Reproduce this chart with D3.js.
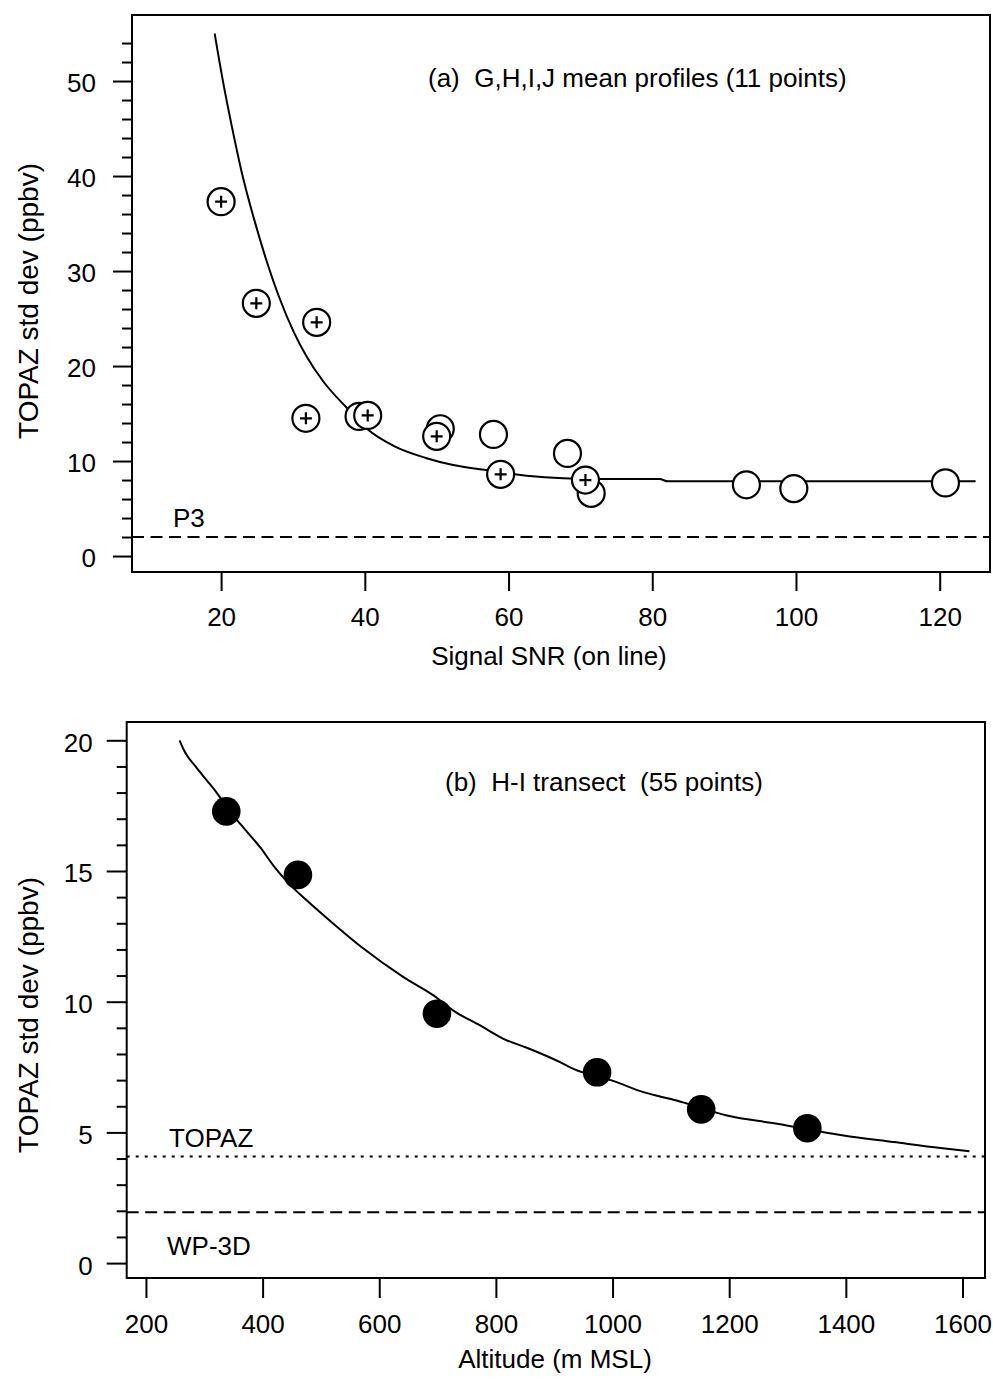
<!DOCTYPE html>
<html>
<head>
<meta charset="utf-8">
<script src="https://cdn.jsdelivr.net/npm/d3@7"></script>
<style>
  html, body { margin: 0; padding: 0; background: #fff; }
  svg { display: block; }
  text { font-family: "Liberation Sans", Arial, Helvetica, sans-serif; fill: #000; white-space: pre; }
</style>
</head>
<body>
<svg id="chart" width="993" height="1381"></svg>
<script>
// ---------- Panel (a) data ----------
const aPlusX = [20.0, 24.9, 33.3, 31.8, 40.4, 50.0, 58.9, 70.7];
const aPlusY = [37.3, 26.6, 24.6, 14.5, 14.8, 12.6, 8.6, 8.0];
const aOpenX = [39.2, 50.5, 57.9, 68.2, 71.5, 93.1, 99.7, 120.8];
const aOpenY = [14.7, 13.4, 12.8, 10.8, 6.6, 7.5, 7.1, 7.7];
const aFitX = [19.1, 20.3, 21.5, 22.9, 24.5, 26.4, 28.0, 30.1, 31.9, 34.2, 36.6, 37.9, 40.3, 44.0, 48.6, 52.3, 56.9, 62.5, 67.6, 72.0, 81.0, 82.2, 125.0];
const aFitY = [55.0, 49.8, 45.2, 40.3, 35.7, 30.9, 27.4, 23.6, 21.0, 18.4, 16.3, 15.3, 13.4, 11.6, 10.3, 9.58, 9.05, 8.45, 8.18, 8.12, 8.1, 7.86, 7.86];
const aRefY = 2.0;
const aRefLabel = "P3";
const aXTicks = [20, 40, 60, 80, 100, 120];
const aYTicks = [0, 10, 20, 30, 40, 50];
const aYMinor = [2, 4, 6, 8, 12, 14, 16, 18, 22, 24, 26, 28, 32, 34, 36, 38, 42, 44, 46, 48, 52, 54];
const aTitle = "(a)  G,H,I,J mean profiles (11 points)";
const aXLabel = "Signal SNR (on line)";
const aYLabel = "TOPAZ std dev (ppbv)";

// ---------- Panel (b) data ----------
const bPtX = [337.7, 460.6, 698.9, 973.5, 1152, 1334];
const bPtY = [17.28, 14.85, 9.54, 7.30, 5.88, 5.16];
const bFitX = [257.6, 267, 285, 304.6, 321.7, 340, 361.7, 396, 418.8, 446, 476, 510, 570, 641.6, 693, 727, 773, 813, 853, 910, 933, 1002, 1053, 1110, 1196, 1282, 1396, 1482, 1562, 1612];
const bFitY = [20.0, 19.54, 19.0, 18.46, 17.98, 17.4, 16.8, 15.9, 15.2, 14.5, 13.87, 13.2, 12.08, 10.94, 10.24, 9.66, 9.09, 8.58, 8.24, 7.69, 7.43, 6.96, 6.54, 6.22, 5.65, 5.33, 4.88, 4.63, 4.40, 4.28];
const bTopazY = 4.08;
const bWp3dY = 1.95;
const bTopazLabel = "TOPAZ";
const bWp3dLabel = "WP-3D";
const bXTicks = [200, 400, 600, 800, 1000, 1200, 1400, 1600];
const bYTicks = [0, 5, 10, 15, 20];
const bYMinor = [1, 2, 3, 4, 6, 7, 8, 9, 11, 12, 13, 14, 16, 17, 18, 19];
const bTitle = "(b)  H-I transect  (55 points)";
const bXLabel = "Altitude (m MSL)";
const bYLabel = "TOPAZ std dev (ppbv)";

const svg = d3.select("#chart");
svg.append("rect").attr("width", 993).attr("height", 1381).attr("fill", "#fff");

function styleAxis(g) {
  g.select(".domain").remove();
  g.selectAll(".tick line").attr("stroke", "#000").attr("stroke-width", 2);
  g.selectAll(".tick text").attr("font-size", 26).attr("fill", "#000")
    .attr("font-family", '"Liberation Sans", Arial, sans-serif');
}

// ================= Panel (a) =================
{
  const L = 132, R = 990, T = 15, B = 572;
  const x = d3.scaleLinear().domain([7.6, 127]).range([L, R]);
  const y = d3.scaleLinear().domain([-1.68, 56.95]).range([B, T]);
  const g = svg.append("g");

  g.append("g").attr("transform", `translate(0,${B})`)
    .call(d3.axisBottom(x).tickValues(aXTicks).tickSize(19).tickPadding(17).tickFormat(d3.format("d")))
    .call(styleAxis);
  g.append("g").attr("transform", `translate(${L},0)`)
    .call(d3.axisLeft(y).tickValues(aYTicks).tickSize(19).tickPadding(17).tickFormat(d3.format("d")))
    .call(styleAxis)
    .call(a => a.selectAll(".tick text").attr("dy", "0.42em"));
  g.append("g").attr("transform", `translate(${L},0)`)
    .call(d3.axisLeft(y).tickValues(aYMinor).tickSize(10).tickFormat(""))
    .call(styleAxis);

  g.append("line").attr("x1", L).attr("x2", R).attr("y1", y(aRefY)).attr("y2", y(aRefY))
    .attr("stroke", "#000").attr("stroke-width", 2).attr("stroke-dasharray", "12,6.5");
  g.append("text").attr("x", 173).attr("y", y(aRefY) - 10).attr("font-size", 26).text(aRefLabel);

  const fit = aFitX.map((v, i) => [v, aFitY[i]]);
  g.append("path").datum(fit)
    .attr("d", d3.line().x(d => x(d[0])).y(d => y(d[1])).curve(d3.curveMonotoneX))
    .attr("fill", "none").attr("stroke", "#000").attr("stroke-width", 2);

  const open = aOpenX.map((v, i) => [v, aOpenY[i]]);
  g.selectAll(".open").data(open).join("circle")
    .attr("cx", d => x(d[0])).attr("cy", d => y(d[1])).attr("r", 13.5)
    .attr("fill", "#fff").attr("stroke", "#000").attr("stroke-width", 2.2);

  const plus = aPlusX.map((v, i) => [v, aPlusY[i]]);
  const pg = g.selectAll(".plus").data(plus).join("g")
    .attr("transform", d => `translate(${x(d[0])},${y(d[1])})`);
  pg.append("circle").attr("r", 13.5).attr("fill", "#fff").attr("stroke", "#000").attr("stroke-width", 2.2);
  pg.append("path").attr("d", "M-6,0H6M0,-6V6").attr("stroke", "#000").attr("stroke-width", 2.2);

  g.append("rect").attr("x", L).attr("y", T).attr("width", R - L).attr("height", B - T)
    .attr("fill", "none").attr("stroke", "#000").attr("stroke-width", 2);

  g.append("text").attr("x", 428).attr("y", 87).attr("font-size", 26).text(aTitle);
  g.append("text").attr("x", 549).attr("y", 665).attr("font-size", 26).attr("text-anchor", "middle").text(aXLabel);
  g.append("text").attr("transform", "translate(38,301) rotate(-90)").attr("font-size", 28)
    .attr("text-anchor", "middle").text(aYLabel);
}

// ================= Panel (b) =================
{
  const L = 126.7, R = 985, T = 722, B = 1278;
  const x = d3.scaleLinear().domain([167, 1638.6]).range([L, R]);
  const y = d3.scaleLinear().domain([-0.57, 20.7]).range([B, T]);
  const g = svg.append("g");

  g.append("g").attr("transform", `translate(0,${B})`)
    .call(d3.axisBottom(x).tickValues(bXTicks).tickSize(20).tickPadding(17).tickFormat(d3.format("d")))
    .call(styleAxis);
  g.append("g").attr("transform", `translate(${L},0)`)
    .call(d3.axisLeft(y).tickValues(bYTicks).tickSize(20).tickPadding(14).tickFormat(d3.format("d")))
    .call(styleAxis)
    .call(a => a.selectAll(".tick text").attr("dy", "0.42em"));
  g.append("g").attr("transform", `translate(${L},0)`)
    .call(d3.axisLeft(y).tickValues(bYMinor).tickSize(10).tickFormat(""))
    .call(styleAxis);

  g.append("line").attr("x1", L).attr("x2", R).attr("y1", y(bTopazY)).attr("y2", y(bTopazY))
    .attr("stroke", "#000").attr("stroke-width", 2).attr("stroke-dasharray", "3,6");
  g.append("line").attr("x1", L).attr("x2", R).attr("y1", y(bWp3dY)).attr("y2", y(bWp3dY))
    .attr("stroke", "#000").attr("stroke-width", 2).attr("stroke-dasharray", "12,6.5");
  g.append("text").attr("x", 169).attr("y", 1147).attr("font-size", 26).text(bTopazLabel);
  g.append("text").attr("x", 167).attr("y", 1255).attr("font-size", 26).text(bWp3dLabel);

  const fit = bFitX.map((v, i) => [v, bFitY[i]]);
  g.append("path").datum(fit)
    .attr("d", d3.line().x(d => x(d[0])).y(d => y(d[1])).curve(d3.curveMonotoneX))
    .attr("fill", "none").attr("stroke", "#000").attr("stroke-width", 2);

  const pts = bPtX.map((v, i) => [v, bPtY[i]]);
  g.selectAll(".pt").data(pts).join("circle")
    .attr("cx", d => x(d[0])).attr("cy", d => y(d[1])).attr("r", 14.3)
    .attr("fill", "#000");

  g.append("rect").attr("x", L).attr("y", T).attr("width", R - L).attr("height", B - T)
    .attr("fill", "none").attr("stroke", "#000").attr("stroke-width", 2);

  g.append("text").attr("x", 445).attr("y", 791).attr("font-size", 26).text(bTitle);
  g.append("text").attr("x", 555).attr("y", 1368).attr("font-size", 26).attr("text-anchor", "middle").text(bXLabel);
  g.append("text").attr("transform", "translate(38,1015) rotate(-90)").attr("font-size", 28)
    .attr("text-anchor", "middle").text(bYLabel);
}
</script>
</body>
</html>
